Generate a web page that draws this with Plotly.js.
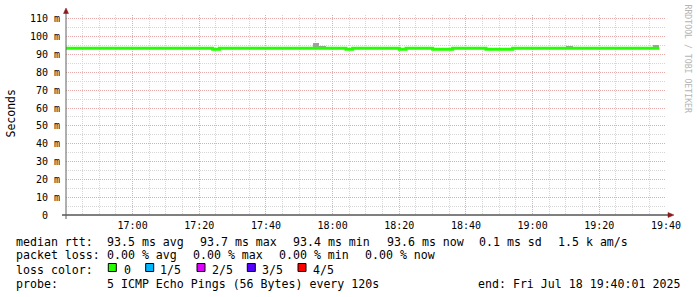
<!DOCTYPE html>
<html><head><meta charset="utf-8">
<script src="https://cdn.plot.ly/plotly-3.0.1.min.js"></script>
<style>html,body{margin:0;padding:0;background:#fff;overflow:hidden}#chart{width:697px;height:297px}</style>
</head><body><div id="chart"></div>
<script>
// ---- data ----
const startTime = '2025-07-18 16:40:01';
const endTime = '2025-07-18 19:40:01';
const stepSeconds = 120;
// median RTT (ms) for each 2-minute step
const medianRtt = [
  93.5,93.5,93.5,93.5,93.5,93.5,93.5,93.5,93.5,93.5,
  93.5,93.5,93.5,93.5,93.5,93.5,93.5,93.5,93.5,93.5,
  93.5,93.5,93.0,93.5,93.5,93.5,93.5,93.5,93.5,93.5,
  93.5,93.5,93.5,93.5,93.5,93.5,93.5,93.5,93.5,93.5,
  93.5,93.5,93.0,93.5,93.5,93.5,93.5,93.5,93.5,93.5,
  93.0,93.5,93.5,93.5,93.5,93.0,93.0,93.0,93.5,93.5,
  93.5,93.5,93.5,93.0,93.0,93.0,93.0,93.5,93.5,93.5,
  93.5,93.5,93.5,93.5,93.5,93.5,93.5,93.5,93.5,93.5,
  93.5,93.5,93.5,93.5,93.5,93.5,93.5,93.5,93.5
];
// visible smoke (ping spread) steps
const smokeSteps = [36, 37, 38, 75, 76, 88];
const smokeLow   = [93.3, 93.3, 93.3, 93.3, 93.3, 93.3];
const smokeHigh  = [94.4, 96.5, 94.8, 94.8, 94.2, 95.4];

const xTickLabels = ['17:00','17:20','17:40','18:00','18:20','18:40','19:00','19:20','19:40'];
const yTickVals = [0,10,20,30,40,50,60,70,80,90,100,110];
const yTickText = ['0  ','10 m','20 m','30 m','40 m','50 m','60 m','70 m','80 m','90 m','100 m','110 m'];
const yMax = 112.2;

const rttLabel = 'median rtt:';
const rttStats = ['93.5 ms avg','93.7 ms max','93.4 ms min','93.6 ms now','0.1 ms sd','1.5 k am/s'];
const lossLabel = 'packet loss:';
const lossStats = ['0.00 % avg','0.00 % max','0.00 % min','0.00 % now'];
const lossColorLabel = 'loss color:';
const lossNames = ['0','1/5','2/5','3/5','4/5'];
const lossColors = ['#26ff00','#00b8ff','#dd00ff','#5500ff','#ff0000'];
const probeLabel = 'probe:';
const probeText = '5 ICMP Echo Pings (56 Bytes) every 120s';
const endText = 'end: Fri Jul 18 19:40:01 2025';
const sideText = 'RRDTOOL / TOBI OETIKER';

// ---- build ----
const toMs = s => Date.parse(s.replace(' ', 'T') + 'Z');
const t0 = toMs(startTime), t1 = toMs(endTime), stepMs = stepSeconds * 1000;

const lineX = medianRtt.map((v, i) => t0 + i * stepMs);
const lineY = medianRtt.slice();
lineX.push(t0 + medianRtt.length * stepMs);
lineY.push(medianRtt[medianRtt.length - 1]);

const smokeTrace = {
  type: 'bar',
  x: smokeSteps.map(i => t0 + i * stepMs + stepMs / 2),
  base: smokeLow,
  y: smokeHigh.map((h, k) => h - smokeLow[k]),
  width: smokeSteps.map(() => stepMs),
  marker: {color: '#a0a0a0', line: {width: 0}},
  hoverinfo: 'skip', showlegend: false
};
const medianTrace = {
  type: 'scatter', mode: 'lines',
  x: lineX, y: lineY,
  line: {color: '#26ff00', width: 3, shape: 'hv'},
  hoverinfo: 'skip', showlegend: false
};

const L = 66, T = 15, W = 600, H = 200;
const px = x => (x - L) / W;
const py = y => (T + H - y) / H;
const nb = s => s.replace(/ /g, '\u00a0');
const mono = 'DejaVu Sans Mono';
const legendFont = {family: mono, size: 11.6, color: '#000'};

const annotations = [];
function txt(text, x, y, opts) {
  annotations.push(Object.assign({
    text: nb(text), xref: 'paper', yref: 'paper', x: px(x), y: py(y),
    xanchor: 'left', yanchor: 'middle', showarrow: false,
    borderpad: 0, borderwidth: 0, font: legendFont
  }, opts || {}));
}
// line 1
txt(rttLabel, 16, 241.7);
[107.3, 200, 293.3, 386.7, 479, 558.3].forEach((x, k) => txt(rttStats[k], x, 241.7));
// line 2
txt(lossLabel, 16, 255.3);
[107.3, 193.3, 279.3, 365].forEach((x, k) => txt(lossStats[k], x, 255.3));
// line 3
txt(lossColorLabel, 16, 269.5);
const lossTextX = [124, 160, 211.7, 262, 312.7];
const lossBoxX = [108.3, 145.7, 197, 247.3, 298];
lossNames.forEach((n, k) => txt(n, lossTextX[k], 269.5));
// line 4
txt(probeLabel, 16, 283.5);
txt(probeText, 107.3, 283.5);
txt(endText, 680, 283.5, {xanchor: 'right'});
// y title
txt('Seconds', 10.5, 114, {xanchor: 'center', textangle: -90, font: {family: mono, size: 11.5, color: '#000'}});
// side credit
txt(sideText, 687.5, 59, {xanchor: 'center', textangle: 90, font: {family: mono, size: 8.2, color: '#b4b4b4'}});

const shapes = [];
lossColors.forEach((c, k) => shapes.push({
  type: 'rect', xref: 'paper', yref: 'paper',
  x0: px(lossBoxX[k]), x1: px(lossBoxX[k] + 8), y0: py(271.5), y1: py(263.5),
  fillcolor: c, line: {color: '#000', width: 1}
}));
// axis lines with extensions and arrows
shapes.push({type: 'line', xref: 'paper', yref: 'paper', x0: px(62), x1: px(669), y0: py(215), y1: py(215), line: {color: '#000', width: 1}, layer: 'above'});
shapes.push({type: 'line', xref: 'paper', yref: 'paper', x0: px(66), x1: px(66), y0: py(219), y1: py(12), line: {color: '#606060', width: 1}, layer: 'above'});
shapes.push({type: 'path', xref: 'paper', yref: 'paper',
  path: `M ${px(668)} ${py(212.5)} L ${px(674)} ${py(215)} L ${px(668)} ${py(217.5)} Z`,
  fillcolor: '#8b1a1a', line: {color: '#8b1a1a', width: 0.5}, layer: 'above'});
shapes.push({type: 'path', xref: 'paper', yref: 'paper',
  path: `M ${px(63.5)} ${py(13.5)} L ${px(66)} ${py(8)} L ${px(68.5)} ${py(13.5)} Z`,
  fillcolor: '#8b1a1a', line: {color: '#8b1a1a', width: 0.5}, layer: 'above'});

const majorGrid = '#e8abab', minorGrid = '#d6d6d6';
const layout = {
  width: 697, height: 297,
  margin: {l: L, r: 697 - L - W, t: T, b: 297 - T - H, pad: 0},
  paper_bgcolor: '#fff', plot_bgcolor: '#fff',
  showlegend: false, barmode: 'overlay', bargap: 0,
  xaxis: {
    type: 'date', range: [t0, t1],
    tickvals: xTickLabels.map(s => toMs('2025-07-18 ' + s + ':00')), ticktext: xTickLabels,
    showgrid: true, gridcolor: majorGrid, griddash: '1px,1px', gridwidth: 1,
    minor: {dtick: 5 * 60000, tick0: toMs('2025-07-18 17:00:00'), showgrid: true, gridcolor: minorGrid, griddash: '1px,1px', gridwidth: 1},
    zeroline: false, showline: false, ticks: '',
    tickfont: {family: mono, size: 10, color: '#000'}, ticklabelstandoff: 3,
    fixedrange: true
  },
  yaxis: {
    range: [0, yMax], tickvals: yTickVals, ticktext: yTickText.map(nb),
    showgrid: true, gridcolor: majorGrid, griddash: '1px,1px', gridwidth: 1,
    minor: {dtick: 5, showgrid: true, gridcolor: minorGrid, griddash: '1px,1px', gridwidth: 1},
    zeroline: false, showline: false, ticks: '',
    tickfont: {family: mono, size: 10, color: '#000'}, ticklabelstandoff: 5,
    fixedrange: true
  },
  annotations: annotations,
  shapes: shapes
};
Plotly.newPlot('chart', [smokeTrace, medianTrace], layout, {staticPlot: true, displayModeBar: false});
</script></body></html>
